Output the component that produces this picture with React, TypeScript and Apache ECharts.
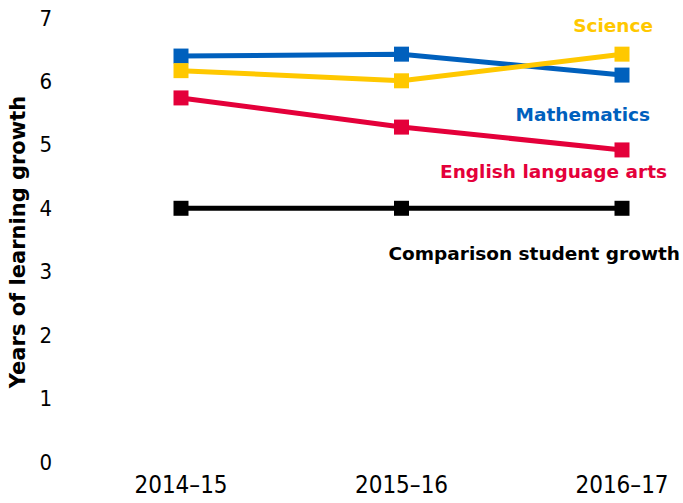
import React, { useEffect, useRef } from "react";
import * as echarts from "echarts";

const categories = ["2014–15", "2015–16", "2016–17"];
const mathematics = [6.4, 6.43, 6.1];
const science = [6.17, 6.01, 6.43];
const ela = [5.74, 5.28, 4.92];
const comparison = [4, 4, 4];
const yTicks = [0, 1, 2, 3, 4, 5, 6, 7];
const yAxisTitle = "Years of learning growth";

const BLUE = "#0060BD";
const YELLOW = "#FFC800";
const RED = "#E4003A";
const BLACK = "#000000";

export default function App() {
  const ref = useRef<HTMLDivElement>(null);
  useEffect(() => {
    if (!ref.current) return;
    const chart = echarts.init(ref.current, undefined, { renderer: "svg" });
    const mk = (name: string, data: number[], color: string, z: number) => ({
      name,
      type: "line",
      data,
      z,
      symbol: "rect",
      symbolSize: 15,
      lineStyle: { color, width: 5 },
      itemStyle: { color },
      emphasis: { disabled: true },
    });
    const labelFont = "'DejaVu Sans', Verdana, sans-serif";
    const tickFont = "'DejaVu Sans Condensed', 'DejaVu Sans', sans-serif";
    chart.setOption({
      animation: false,
      grid: { left: 181, right: 61, top: 18, bottom: 41, containLabel: false },
      xAxis: {
        type: "category",
        data: categories,
        boundaryGap: false,
        axisLine: { show: false },
        axisTick: { show: false },
        axisLabel: {
          color: "#000",
          fontSize: 24,
          fontFamily: tickFont,
          margin: 11,
        },
      },
      yAxis: {
        type: "value",
        min: yTicks[0],
        max: yTicks[yTicks.length - 1],
        interval: 1,
        splitLine: { show: false },
        axisLine: { show: false },
        axisTick: { show: false },
        axisLabel: {
          color: "#000",
          fontSize: 22,
          fontFamily: tickFont,
          margin: 129,
        },
      },
      series: [
        mk("Comparison student growth", comparison, BLACK, 1),
        mk("English language arts", ela, RED, 2),
        mk("Mathematics", mathematics, BLUE, 3),
        mk("Science", science, YELLOW, 4),
      ],
      graphic: [
        {
          type: "text",
          x: 18,
          y: 242,
          rotation: Math.PI / 2,
          style: {
            text: yAxisTitle,
            fill: "#000",
            font: `bold 21px ${labelFont}`,
            align: "center",
            verticalAlign: "middle",
          },
        },
        { type: "text", right: 30, top: 16, style: { text: "Science", fill: YELLOW, font: `bold 18.5px ${labelFont}` } },
        { type: "text", right: 33, top: 105, style: { text: "Mathematics", fill: BLUE, font: `bold 18.5px ${labelFont}` } },
        { type: "text", right: 16, top: 162, style: { text: "English language arts", fill: RED, font: `bold 18.5px ${labelFont}` } },
        { type: "text", right: 3, top: 244, style: { text: "Comparison student growth", fill: BLACK, font: `bold 18.5px ${labelFont}` } },
      ],
    });
    return () => chart.dispose();
  }, []);
  return <div ref={ref} style={{ width: 683, height: 503, position: "absolute", left: 0, top: 0 }} />;
}
